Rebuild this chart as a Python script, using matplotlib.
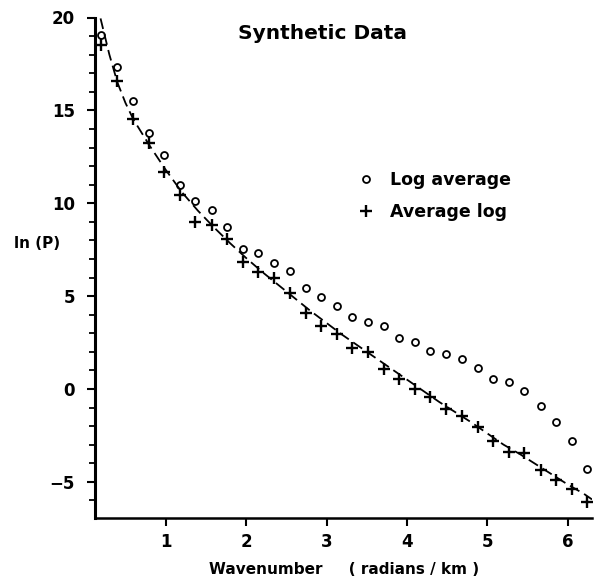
import matplotlib
matplotlib.use("Agg")
import matplotlib.pyplot as plt
from matplotlib.ticker import MultipleLocator, FixedLocator

# ---- data ----
wavenumber = [0.20, 0.40, 0.59, 0.79, 0.98, 1.18, 1.37, 1.57, 1.76, 1.96,
              2.15, 2.35, 2.54, 2.74, 2.93, 3.13, 3.32, 3.51, 3.71, 3.90,
              4.10, 4.29, 4.49, 4.68, 4.88, 5.07, 5.27, 5.46, 5.66, 5.85,
              6.05, 6.24]
log_average = [19.07, 17.33, 15.50, 13.78, 12.58, 10.97, 10.10, 9.62, 8.71, 7.55,
               7.30, 6.77, 6.35, 5.41, 4.96, 4.46, 3.89, 3.62, 3.39, 2.76,
               2.51, 2.04, 1.88, 1.61, 1.15, 0.52, 0.36, -0.11, -0.91, -1.76,
               -2.80, -4.32]
average_log = [18.50, 16.60, 14.55, 13.24, 11.68, 10.43, 9.00, 8.82, 8.05, 6.85,
               6.28, 5.98, 5.17, 4.10, 3.40, 2.94, 2.19, 2.01, 1.08, 0.52,
               0.00, -0.41, -1.06, -1.45, -2.03, -2.83, -3.37, -3.46, -4.39, -4.93,
               -5.38, -6.11]
fit_x = [0.19, 0.30, 0.40, 0.50, 0.60, 0.80, 1.00, 1.20, 1.40, 1.60, 1.80,
         2.00, 2.20, 2.40, 2.60, 2.80, 3.00, 3.20, 3.40, 3.60, 3.80, 4.00,
         4.20, 4.40, 4.60, 4.80, 5.00, 5.20, 5.40, 5.60, 5.80, 6.00, 6.20, 6.30]
fit_y = [19.95, 18.0, 16.5, 15.4, 14.5, 13.1, 11.8, 10.6, 9.6, 8.7, 7.85,
         7.05, 6.3, 5.6, 4.9, 4.2, 3.55, 2.9, 2.3, 1.7, 1.1, 0.5,
         -0.1, -0.7, -1.25, -1.8, -2.4, -3.0, -3.5, -4.05, -4.6, -5.15, -5.65, -5.95]
x_ticks = [1, 2, 3, 4, 5, 6]
y_ticks = [-5, 0, 5, 10, 15, 20]

plt.rcParams['font.family'] = ['DejaVu Sans']
plt.rcParams['font.weight'] = 'bold'
plt.rcParams['axes.labelweight'] = 'bold'

fig = plt.figure(figsize=(5.94, 5.86), dpi=100)
ax = fig.add_axes([94.5 / 594, 1 - 518 / 586, (592 - 94.5) / 594, (518 - 17.5) / 586])

ax.plot(fit_x, fit_y, color='black', linewidth=1.3, dashes=(6, 3))
ax.plot(wavenumber, log_average, linestyle='none', marker='o', markersize=5,
        markerfacecolor='none', markeredgecolor='black', markeredgewidth=1.3,
        label='Log average')
ax.plot(wavenumber, average_log, linestyle='none', marker='+', markersize=8,
        markeredgecolor='black', markeredgewidth=1.7, label='Average log')

ax.set_xlim(0.115, 6.30)
ax.set_ylim(-6.95, 20)

for s in ('top', 'right'):
    ax.spines[s].set_visible(False)
ax.spines['left'].set_linewidth(2.2)
ax.spines['bottom'].set_linewidth(1.8)

ax.xaxis.set_major_locator(FixedLocator(x_ticks))
ax.yaxis.set_major_locator(FixedLocator(y_ticks))
ax.yaxis.set_minor_locator(MultipleLocator(1))
ax.set_xticklabels([str(t) for t in x_ticks])
ax.set_yticklabels([('\u2212' + str(-t)) if t < 0 else str(t) for t in y_ticks])
ax.tick_params(axis='y', which='major', length=6, width=1.5, labelsize=12, pad=8)
ax.tick_params(axis='y', which='minor', length=4, width=1.3)
ax.tick_params(axis='x', which='major', length=6, width=1.5, labelsize=12, pad=5)

ax.set_ylabel('ln (P)', rotation=0, fontsize=11, va='center', ha='center')
ax.yaxis.set_label_coords(-0.115, 0.549)
ax.set_xlabel('Wavenumber     ( radians / km )', fontsize=11)
ax.xaxis.set_label_coords(0.5025, -0.088)

ax.text(0.459, 0.969, 'Synthetic Data', transform=ax.transAxes,
        ha='center', va='center', fontsize=14.5)

ax.legend(loc='upper left', bbox_to_anchor=(357 / 594, 1 - 171 / 586),
          bbox_transform=fig.transFigure, frameon=False,
          prop={'size': 12.5, 'weight': 'bold'},
          handlelength=1.0, handletextpad=0.9, labelspacing=0.8, borderpad=0,
          borderaxespad=0)

fig.savefig('out.png', dpi=100, facecolor='white')
